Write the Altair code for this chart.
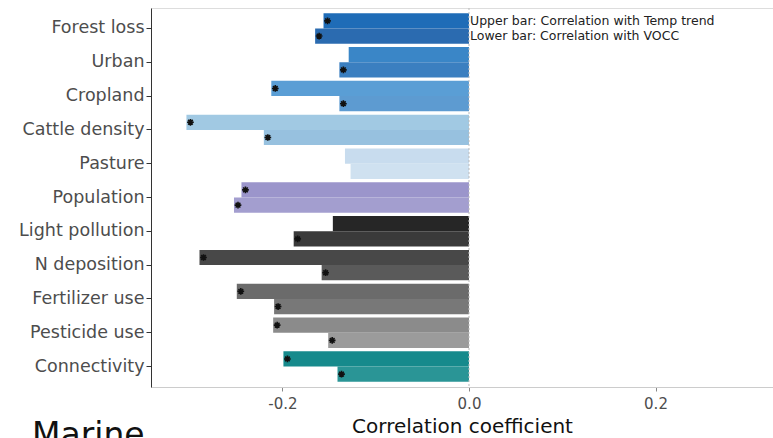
import altair as alt
import pandas as pd

# Drivers, listed top to bottom
drivers = [
    "Forest loss", "Urban", "Cropland", "Cattle density", "Pasture",
    "Population", "Light pollution", "N deposition", "Fertilizer use",
    "Pesticide use", "Connectivity",
]

# Correlation with the temperature trend (upper bar) and with VOCC (lower bar)
corr_temp = [-0.156, -0.129, -0.212, -0.303, -0.133, -0.244, -0.146, -0.289, -0.249, -0.210, -0.199]
corr_vocc = [-0.165, -0.139, -0.139, -0.220, -0.127, -0.252, -0.188, -0.158, -0.209, -0.151, -0.141]

# Significance flags (asterisk at the bar end)
sig_temp = [True, False, True, True, False, True, False, True, True, True, True]
sig_vocc = [True, True, True, True, False, True, True, True, True, True, True]

# Bar fills per driver: (upper, lower)
fills_temp = ["#1f6cb7", "#3a86c7", "#5a9ed5", "#a1c9e3", "#c8dcee", "#9b95cb",
              "#262626", "#484848", "#6b6b6b", "#8b8b8b", "#168a8c"]
fills_vocc = ["#2b6bb0", "#3b7fc0", "#5d9bd1", "#97c1df", "#cfe1f0", "#a39ecf",
              "#3a3a3a", "#5a5a5a", "#787878", "#9b9b9b", "#2a9596"]

series = ["Temp", "VOCC"]
notes = ["Upper bar: Correlation with Temp trend", "Lower bar: Correlation with VOCC"]

rows = []
for i, d in enumerate(drivers):
    rows.append({"driver": d, "series": "Temp", "value": corr_temp[i],
                 "sig": sig_temp[i], "key": d + "|Temp"})
    rows.append({"driver": d, "series": "VOCC", "value": corr_vocc[i],
                 "sig": sig_vocc[i], "key": d + "|VOCC"})
df = pd.DataFrame(rows)

color_domain = [d + "|" + s for d in drivers for s in series]
color_range = []
for i in range(len(drivers)):
    color_range += [fills_temp[i], fills_vocc[i]]

FONT = "DejaVu Sans"

x_scale = alt.Scale(domain=[-0.341, 0.326], nice=False, zero=False)
y_enc = alt.Y(
    "driver:N", sort=drivers, title=None,
    scale=alt.Scale(paddingInner=0.1, paddingOuter=0.155),
    axis=alt.Axis(labelFont=FONT, labelFontSize=17.5, labelColor="#4d4d4d",
                  labelPadding=2, tickSize=5, tickColor="#333333",
                  domainColor="#333333", labelLimit=300),
)
yoff = alt.YOffset("series:N", scale=alt.Scale(domain=series, paddingInner=0, paddingOuter=0))

base = alt.Chart(df)

bars = base.mark_bar().encode(
    x=alt.X(
        "value:Q", scale=x_scale, title="Correlation coefficient",
        axis=alt.Axis(values=[-0.2, 0.0, 0.2], format=".1f",
                      labelExpr="replace(datum.label, '\u2212', '-')",
                      labelFont=FONT, labelFontSize=15, labelColor="#4d4d4d",
                      labelPadding=5, tickSize=4, tickColor="#888888",
                      domainColor="#cccccc", grid=False,
                      titleFont=FONT, titleFontSize=20, titleFontWeight="normal",
                      titleColor="#111111", titlePadding=5),
    ),
    x2=alt.datum(0),
    y=y_enc,
    yOffset=yoff,
    color=alt.Color("key:N", scale=alt.Scale(domain=color_domain, range=color_range), legend=None),
)

zero_line = alt.Chart(pd.DataFrame({"v": [0.0]})).mark_rule(
    color="#bbbbbb", strokeDash=[2, 2], strokeWidth=1
).encode(x=alt.X("v:Q", scale=x_scale))

asterisk = "M-1,0L1,0M0,-1L0,1M-0.7,-0.7L0.7,0.7M-0.7,0.7L0.7,-0.7"
stars = base.transform_filter(alt.datum.sig).mark_point(
    shape=asterisk, filled=False, stroke="#111111", strokeWidth=1.6,
    size=45, xOffset=4, opacity=1,
).encode(
    x=alt.X("value:Q", scale=x_scale),
    y=alt.Y("driver:N", sort=drivers),
    yOffset=yoff,
)

note_df = pd.DataFrame({"driver": [drivers[0], drivers[0]], "series": series,
                        "v": [0.0, 0.0], "txt": notes})
note_text = alt.Chart(note_df).mark_text(
    align="left", baseline="middle", dx=1, font=FONT, fontSize=12.5, color="#222222"
).encode(
    x=alt.X("v:Q", scale=x_scale),
    y=alt.Y("driver:N", sort=drivers),
    yOffset=yoff,
    text="txt:N",
)

panel_title = alt.Chart(pd.DataFrame({"t": ["Marine"]})).mark_text(
    align="left", baseline="alphabetic", font=FONT, fontSize=33, color="#111111"
).encode(text="t:N", x=alt.value(-119), y=alt.value(438))

chart = alt.layer(bars, zero_line, stars, note_text, panel_title).properties(
    width=622, height=379,
    autosize=alt.AutoSizeParams(type="none"),
    padding={"left": 151, "top": 8, "right": 0, "bottom": 51},
).configure_view(stroke="#d4d4d4", strokeWidth=1).configure(background="white")

chart.save("out.html", embed_options={"renderer": "svg", "actions": False})
